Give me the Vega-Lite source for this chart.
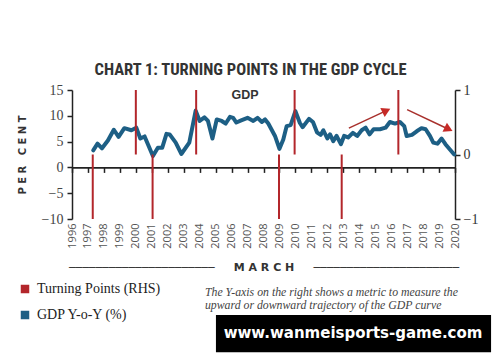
{
  "$schema": "https://vega.github.io/schema/vega-lite/v6.json",
  "width": 383,
  "height": 129,
  "autosize": {"type": "none"},
  "padding": {"left": 72, "top": 90, "right": 45, "bottom": 143},
  "background": "white",
  "config": {
    "view": {"stroke": null},
    "axis": {"grid": false},
    "axisX": {"domain": false, "ticks": false, "labelAngle": -90, "labelPadding": 4, "labelFont": "Open Sans", "labelFontSize": 11, "labelColor": "#555555"},
    "axisY": {"domainColor": "#222222", "domainWidth": 1.5, "tickColor": "#222222", "tickWidth": 1.5, "tickSize": 5, "labelFont": "Liberation Serif", "labelFontSize": 14}
  },
  "title": {
    "text": "CHART 1: TURNING POINTS IN THE GDP CYCLE",
    "font": "Roboto Condensed, Roboto, sans-serif",
    "fontSize": 16.5,
    "fontWeight": "bold",
    "color": "#333333",
    "anchor": "middle",
    "dx": -13,
    "offset": 5
  },
  "datasets": {
    "gdp": [
      {"year": 1997.33, "gdp": 3.3}, {"year": 1997.6, "gdp": 4.6}, {"year": 1997.88, "gdp": 3.7},
      {"year": 1998.25, "gdp": 5.2}, {"year": 1998.62, "gdp": 7.3}, {"year": 1998.92, "gdp": 5.9},
      {"year": 1999.28, "gdp": 7.6}, {"year": 1999.72, "gdp": 7.2}, {"year": 2000.03, "gdp": 7.7},
      {"year": 2000.28, "gdp": 5.6}, {"year": 2000.55, "gdp": 6.0}, {"year": 2001.07, "gdp": 2.2},
      {"year": 2001.38, "gdp": 3.8}, {"year": 2001.65, "gdp": 3.8}, {"year": 2001.92, "gdp": 6.5},
      {"year": 2002.12, "gdp": 6.4}, {"year": 2002.5, "gdp": 4.8}, {"year": 2002.85, "gdp": 2.6},
      {"year": 2003.35, "gdp": 4.8}, {"year": 2003.75, "gdp": 11.0}, {"year": 2004.0, "gdp": 9.0},
      {"year": 2004.3, "gdp": 9.7}, {"year": 2004.52, "gdp": 9.0}, {"year": 2004.8, "gdp": 5.6},
      {"year": 2005.07, "gdp": 9.3}, {"year": 2005.38, "gdp": 9.0}, {"year": 2005.63, "gdp": 8.5},
      {"year": 2005.9, "gdp": 9.8}, {"year": 2006.1, "gdp": 9.6}, {"year": 2006.3, "gdp": 8.7},
      {"year": 2006.6, "gdp": 9.1}, {"year": 2007.0, "gdp": 9.6}, {"year": 2007.36, "gdp": 9.0},
      {"year": 2007.63, "gdp": 9.6}, {"year": 2007.9, "gdp": 8.8}, {"year": 2008.1, "gdp": 9.3},
      {"year": 2008.3, "gdp": 8.5}, {"year": 2008.72, "gdp": 6.1}, {"year": 2009.0, "gdp": 3.6},
      {"year": 2009.24, "gdp": 5.4}, {"year": 2009.45, "gdp": 8.0}, {"year": 2009.7, "gdp": 8.2},
      {"year": 2010.0, "gdp": 10.9}, {"year": 2010.28, "gdp": 8.6}, {"year": 2010.45, "gdp": 7.8},
      {"year": 2010.85, "gdp": 9.4}, {"year": 2011.1, "gdp": 8.8}, {"year": 2011.35, "gdp": 6.8},
      {"year": 2011.58, "gdp": 6.3}, {"year": 2011.75, "gdp": 7.2}, {"year": 2012.0, "gdp": 5.6},
      {"year": 2012.17, "gdp": 6.4}, {"year": 2012.37, "gdp": 5.1}, {"year": 2012.58, "gdp": 6.1},
      {"year": 2012.85, "gdp": 4.5}, {"year": 2013.05, "gdp": 6.1}, {"year": 2013.3, "gdp": 5.8},
      {"year": 2013.6, "gdp": 6.7}, {"year": 2013.87, "gdp": 6.1}, {"year": 2014.15, "gdp": 7.2},
      {"year": 2014.4, "gdp": 7.7}, {"year": 2014.65, "gdp": 6.4}, {"year": 2014.9, "gdp": 7.4},
      {"year": 2015.3, "gdp": 7.4}, {"year": 2015.65, "gdp": 7.7}, {"year": 2015.92, "gdp": 8.8},
      {"year": 2016.24, "gdp": 8.5}, {"year": 2016.55, "gdp": 8.8}, {"year": 2016.82, "gdp": 8.0},
      {"year": 2016.97, "gdp": 6.1}, {"year": 2017.3, "gdp": 6.3}, {"year": 2017.6, "gdp": 7.0},
      {"year": 2017.9, "gdp": 7.6}, {"year": 2018.16, "gdp": 7.4}, {"year": 2018.43, "gdp": 6.1},
      {"year": 2018.64, "gdp": 4.8}, {"year": 2018.9, "gdp": 4.6}, {"year": 2019.16, "gdp": 5.6},
      {"year": 2019.4, "gdp": 4.5}, {"year": 2019.95, "gdp": 2.5}
    ],
    "turning": [
      {"year": 1997.3, "tp": -1}, {"year": 2000.0, "tp": 1}, {"year": 2001.05, "tp": -1},
      {"year": 2003.78, "tp": 1}, {"year": 2008.97, "tp": -1}, {"year": 2009.95, "tp": 1},
      {"year": 2012.9, "tp": -1}, {"year": 2016.45, "tp": 1}
    ],
    "arrows": [
      {"trend": "up", "from_year": 2013.35, "from_gdp": 7.6, "to_year": 2015.7, "to_gdp": 11.0},
      {"trend": "down", "from_year": 2017.0, "from_gdp": 11.2, "to_year": 2019.6, "to_gdp": 7.4}
    ]
  },
  "layer": [
    {
      "layer": [
        {
          "data": {"name": "gdp"},
          "mark": {"type": "line", "strokeWidth": 4, "strokeJoin": "round", "strokeCap": "round"},
          "encoding": {
            "x": {
              "field": "year", "type": "quantitative",
              "scale": {"domain": [1996, 2020], "nice": false, "zero": false},
              "axis": {
                "orient": "bottom",
                "values": [1996, 2000, 2004, 2008, 2012, 2016, 2020],
                "format": "d",
                "title": "──────────────────────\u00a0\u00a0\u00a0\u00a0\u00a0M\u00a0A\u00a0R\u00a0C\u00a0H\u00a0\u00a0\u00a0\u00a0\u00a0──────────────────────",
                "titleFont": "DejaVu Sans",
                "titleFontSize": 11,
                "titleFontWeight": "bold",
                "titleColor": "#333333",
                "titlePadding": 13
              }
            },
            "y": {
              "field": "gdp", "type": "quantitative",
              "scale": {"domain": [-10, 15], "nice": false, "zero": false},
              "axis": {
                "orient": "left",
                "values": [-10, 0, 10],
                "labelPadding": 4,
                "labelColor": "#444444",
                "title": "P\u00a0E\u00a0R\u00a0\u00a0\u00a0C\u00a0E\u00a0N\u00a0T",
                "titleFont": "DejaVu Sans",
                "titleFontSize": 10,
                "titleFontWeight": "bold",
                "titleColor": "#333333",
                "titlePadding": 14
              }
            },
            "color": {
              "datum": "GDP Y-o-Y (%)",
              "scale": {"domain": ["Turning Points (RHS)", "GDP Y-o-Y (%)"], "range": ["#b3262b", "#1d5f85"]}
            }
          }
        },
        {
          "data": {"name": "arrows"},
          "mark": {"type": "rule", "strokeWidth": 1.5, "color": "#a8302c"},
          "encoding": {
            "x": {"field": "from_year", "type": "quantitative",
              "axis": {"orient": "bottom", "values": [1997, 2001, 2005, 2009, 2013, 2017], "format": "d", "title": null}},
            "y": {"field": "from_gdp", "type": "quantitative",
              "axis": {"orient": "left", "values": [-5, 5, 15], "domain": false, "labelPadding": 4, "labelColor": "#444444", "title": null}},
            "x2": {"field": "to_year"},
            "y2": {"field": "to_gdp"}
          }
        },
        {
          "data": {"name": "arrows"},
          "transform": [{"filter": "datum.trend == 'up'"}],
          "mark": {"type": "point", "shape": "triangle-right", "filled": true, "opacity": 1, "size": 100, "angle": 334, "color": "#c62a27"},
          "encoding": {
            "x": {"field": "to_year", "type": "quantitative",
              "axis": {"orient": "bottom", "values": [1998, 2002, 2006, 2010, 2014, 2018], "format": "d", "title": null}},
            "y": {"field": "to_gdp", "type": "quantitative", "axis": null}
          }
        },
        {
          "data": {"name": "arrows"},
          "transform": [{"filter": "datum.trend == 'down'"}],
          "mark": {"type": "point", "shape": "triangle-right", "filled": true, "opacity": 1, "size": 100, "angle": 26, "color": "#c62a27"},
          "encoding": {
            "x": {"field": "to_year", "type": "quantitative",
              "axis": {"orient": "bottom", "values": [1999, 2003, 2007, 2011, 2015, 2019], "format": "d", "title": null}},
            "y": {"field": "to_gdp", "type": "quantitative", "axis": null}
          }
        },
        {
          "data": {"values": [{"label": "GDP"}]},
          "mark": {"type": "text", "font": "Liberation Sans", "fontSize": 12.5, "fontWeight": "bold", "color": "#333333", "align": "center", "baseline": "middle"},
          "encoding": {
            "x": {"datum": 2006.84, "type": "quantitative", "axis": null},
            "y": {"datum": 14.1, "type": "quantitative", "axis": null},
            "text": {"field": "label"}
          }
        },
        {
          "data": {"values": [{}]},
          "mark": {
            "type": "text",
            "text": ["The Y-axis on the right shows a metric to measure the", "upward or downward trajectory of the GDP curve"],
            "font": "Liberation Serif", "fontStyle": "italic", "fontSize": 11.8, "lineHeight": 13.5,
            "color": "#444444", "align": "left", "baseline": "alphabetic"
          },
          "encoding": {
            "x": {"datum": 2004.33, "type": "quantitative", "axis": null},
            "y": {"datum": -24.9, "type": "quantitative", "axis": null}
          }
        },
        {
          "data": {"values": [{}]},
          "mark": {"type": "rect", "color": "#000000"},
          "encoding": {
            "x": {"datum": 2005.02, "type": "quantitative", "axis": null},
            "x2": {"datum": 2022.26},
            "y": {"datum": -28.6, "type": "quantitative", "axis": null},
            "y2": {"datum": -35.8}
          }
        },
        {
          "data": {"values": [{"site": "www.wanmeisports-game.com"}]},
          "mark": {"type": "text", "font": "DejaVu Sans", "fontSize": 15, "fontWeight": "bold", "color": "#ffffff", "align": "center", "baseline": "middle"},
          "encoding": {
            "x": {"datum": 2013.61, "type": "quantitative", "axis": null},
            "y": {"datum": -32.1, "type": "quantitative", "axis": null},
            "text": {"field": "site"}
          }
        }
      ],
      "resolve": {"axis": {"x": "independent", "y": "independent"}}
    },
    {
      "data": {"name": "turning"},
      "layer": [
        {
          "transform": [{"filter": "datum.tp > 0"}],
          "mark": {"type": "rule", "strokeWidth": 2},
          "encoding": {
            "x": {
              "field": "year", "type": "quantitative",
              "axis": {
                "orient": "bottom",
                "offset": -51.6,
                "values": [1996,1997,1998,1999,2000,2001,2002,2003,2004,2005,2006,2007,2008,2009,2010,2011,2012,2013,2014,2015,2016,2017,2018,2019,2020],
                "labels": false,
                "domain": true,
                "ticks": true,
                "domainColor": "#222222",
                "domainWidth": 1.8,
                "tickColor": "#222222",
                "tickWidth": 1.5,
                "tickSize": 5,
                "title": null
              }
            },
            "y": {
              "field": "tp", "type": "quantitative",
              "scale": {"domain": [-1, 1], "nice": false},
              "axis": {
                "orient": "right",
                "values": [-1, 1],
                "format": "d",
                "labelPadding": 3,
                "labelColor": "#333333",
                "title": null
              }
            },
            "y2": {"datum": 0},
            "color": {
              "datum": "Turning Points (RHS)",
              "scale": {"domain": ["Turning Points (RHS)", "GDP Y-o-Y (%)"], "range": ["#b3262b", "#1d5f85"]},
              "legend": {
                "orient": "none",
                "legendX": -54,
                "legendY": 192,
                "title": null,
                "padding": 0,
                "symbolType": "square",
                "symbolSize": 9,
                "symbolStrokeWidth": 5.5,
                "symbolOpacity": 1,
                "labelFont": "Liberation Serif",
                "labelFontSize": 14,
                "labelColor": "#222222",
                "labelOffset": 5,
                "rowPadding": 0
              }
            }
          }
        },
        {
          "transform": [{"filter": "datum.tp < 0"}],
          "mark": {"type": "rule", "strokeWidth": 2},
          "encoding": {
            "x": {"field": "year", "type": "quantitative", "axis": null},
            "y": {
              "field": "tp", "type": "quantitative",
              "axis": {
                "orient": "right",
                "values": [0],
                "format": "d",
                "domain": false,
                "labelPadding": 3,
                "labelColor": "#333333",
                "title": null
              }
            },
            "y2": {"datum": 0},
            "color": {"datum": "Turning Points (RHS)"}
          }
        }
      ],
      "resolve": {"axis": {"x": "independent", "y": "independent"}}
    }
  ],
  "resolve": {"scale": {"y": "independent"}, "axis": {"x": "independent"}}
}
